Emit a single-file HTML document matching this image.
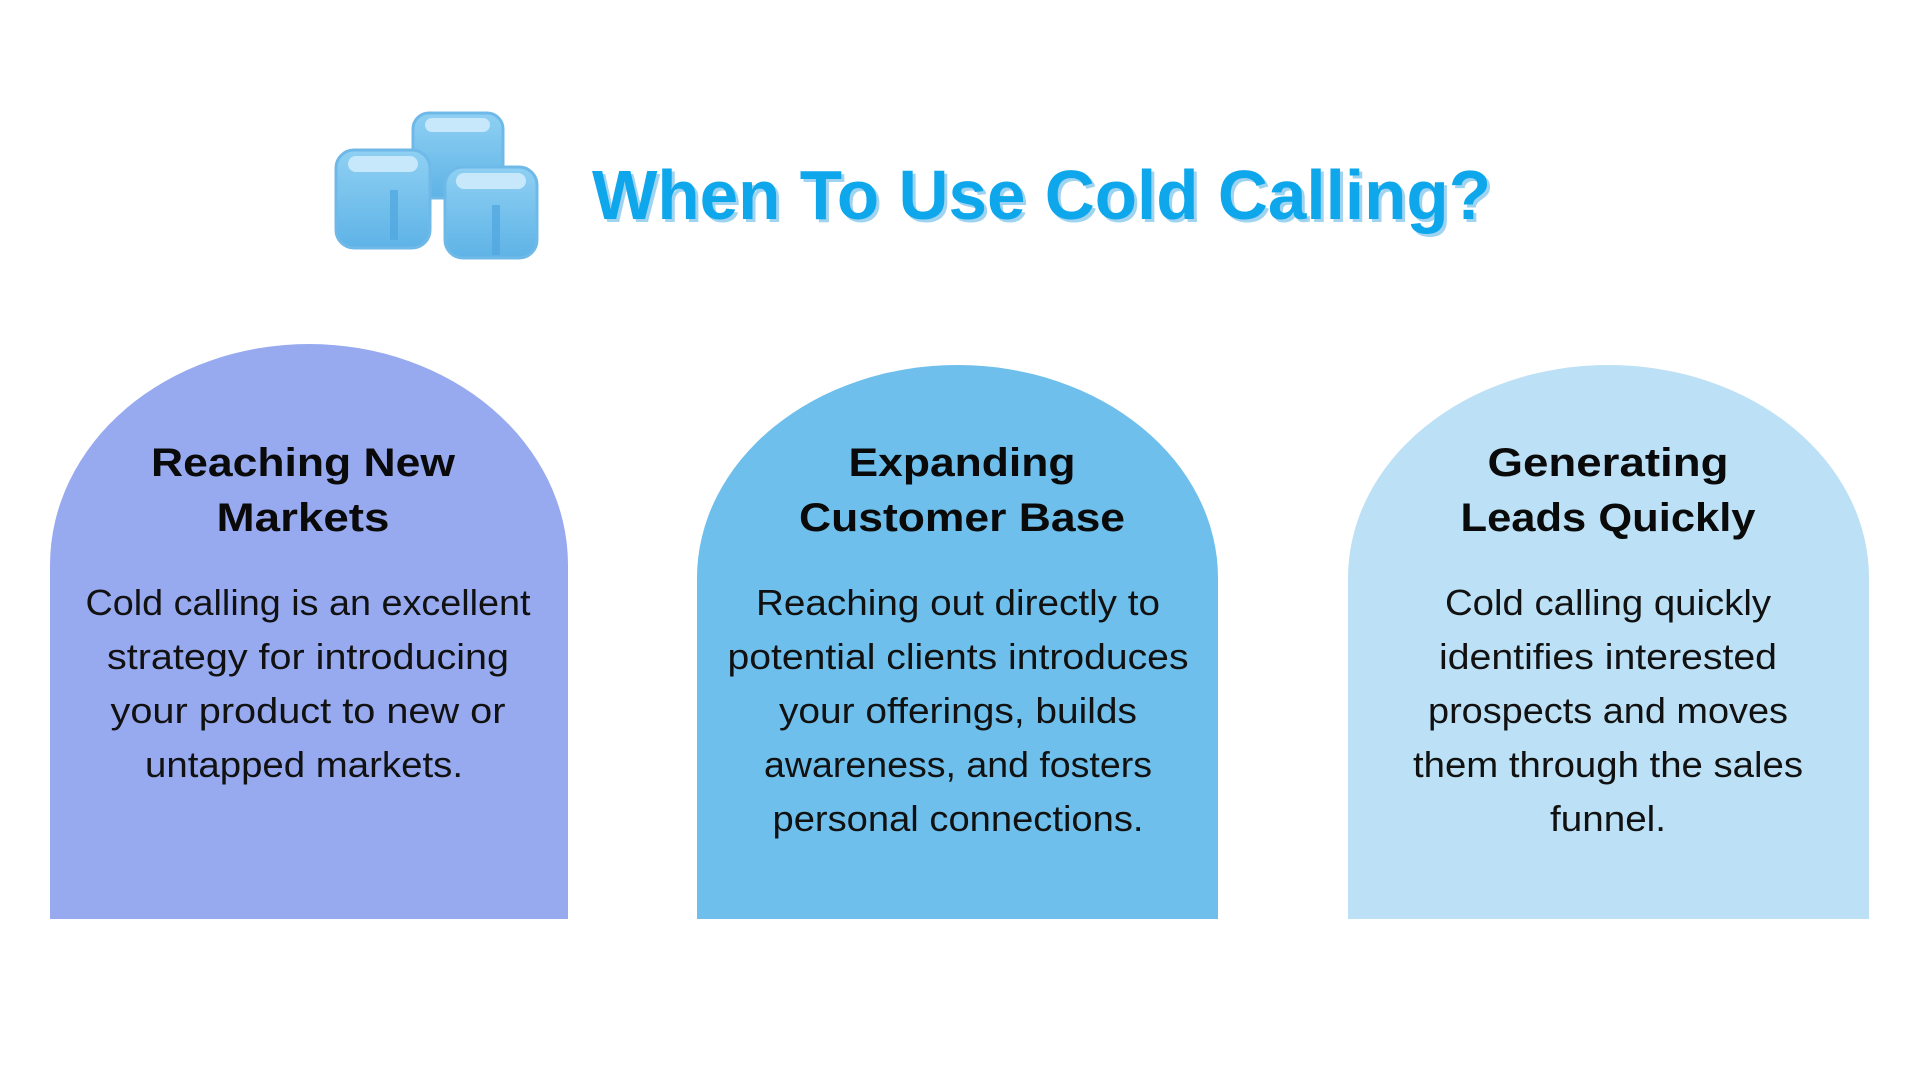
<!DOCTYPE html>
<html><head><meta charset="utf-8"><style>
html,body{margin:0;padding:0;background:#fff;}
svg{display:block;}
text{font-family:"Liberation Sans",sans-serif;}
.h{font-weight:bold;font-size:40px;fill:#0a0a0a;}
.b{font-size:36px;fill:#111;}
</style></head><body>
<svg width="1920" height="1080" viewBox="0 0 1920 1080" xmlns="http://www.w3.org/2000/svg">
<defs>
<linearGradient id="ice" x1="0" y1="0" x2="0" y2="1">
<stop offset="0" stop-color="#8fd0f3"/><stop offset="1" stop-color="#5eb3e6"/></linearGradient>
</defs>
<!-- ice cubes -->
<g>
<rect x="413" y="113" width="90" height="85" rx="16" fill="url(#ice)" stroke="#6fb9e8" stroke-width="3"/>
<rect x="425" y="118" width="65" height="14" rx="7" fill="#c7e8fa"/>
<rect x="336" y="150" width="94" height="98" rx="18" fill="url(#ice)" stroke="#6fb9e8" stroke-width="3"/>
<rect x="348" y="156" width="70" height="16" rx="8" fill="#c7e8fa"/>
<rect x="445" y="167" width="92" height="91" rx="18" fill="url(#ice)" stroke="#6fb9e8" stroke-width="3"/>
<rect x="456" y="173" width="70" height="16" rx="8" fill="#c7e8fa"/>
<rect x="390" y="190" width="8" height="50" fill="#4ea5de" opacity="0.7"/>
<rect x="492" y="205" width="8" height="50" fill="#4ea5de" opacity="0.7"/>
</g>
<text x="592" y="219" font-weight="bold" font-size="70" fill="#9fd3ef" textLength="899" lengthAdjust="spacingAndGlyphs" transform="translate(3,3)">When To Use Cold Calling?</text>
<text x="592" y="219" font-weight="bold" font-size="70" fill="#0fa7ec" textLength="899" lengthAdjust="spacingAndGlyphs">When To Use Cold Calling?</text>

<!-- cards -->
<path d="M50 919 L50 565 A259 221 0 0 1 568 565 L568 919 Z" fill="#97aaf0"/>
<path d="M697 919 L697 578 A260.5 213 0 0 1 1218 578 L1218 919 Z" fill="#6ebfec"/>
<path d="M1348 919 L1348 578 A260.5 213 0 0 1 1869 578 L1869 919 Z" fill="#bce0f5"/>

<g text-anchor="middle">
<text class="h" x="303" y="476" textLength="304" lengthAdjust="spacingAndGlyphs">Reaching New</text>
<text class="h" x="303" y="531" textLength="173" lengthAdjust="spacingAndGlyphs">Markets</text>
<text class="b" x="308" y="615" textLength="445" lengthAdjust="spacingAndGlyphs">Cold calling is an excellent</text>
<text class="b" x="308" y="669" textLength="402" lengthAdjust="spacingAndGlyphs">strategy for introducing</text>
<text class="b" x="308" y="723" textLength="395" lengthAdjust="spacingAndGlyphs">your product to new or</text>
<text class="b" x="304" y="777" textLength="318" lengthAdjust="spacingAndGlyphs">untapped markets.</text>

<text class="h" x="962" y="476" textLength="227" lengthAdjust="spacingAndGlyphs">Expanding</text>
<text class="h" x="962" y="531" textLength="326" lengthAdjust="spacingAndGlyphs">Customer Base</text>
<text class="b" x="958" y="615" textLength="404" lengthAdjust="spacingAndGlyphs">Reaching out directly to</text>
<text class="b" x="958" y="669" textLength="461" lengthAdjust="spacingAndGlyphs">potential clients introduces</text>
<text class="b" x="958" y="723" textLength="358" lengthAdjust="spacingAndGlyphs">your offerings, builds</text>
<text class="b" x="958" y="777" textLength="388" lengthAdjust="spacingAndGlyphs">awareness, and fosters</text>
<text class="b" x="958" y="831" textLength="371" lengthAdjust="spacingAndGlyphs">personal connections.</text>

<text class="h" x="1608" y="476" textLength="241" lengthAdjust="spacingAndGlyphs">Generating</text>
<text class="h" x="1608" y="531" textLength="295" lengthAdjust="spacingAndGlyphs">Leads Quickly</text>
<text class="b" x="1608" y="615" textLength="326" lengthAdjust="spacingAndGlyphs">Cold calling quickly</text>
<text class="b" x="1608" y="669" textLength="338" lengthAdjust="spacingAndGlyphs">identifies interested</text>
<text class="b" x="1608" y="723" textLength="360" lengthAdjust="spacingAndGlyphs">prospects and moves</text>
<text class="b" x="1608" y="777" textLength="390" lengthAdjust="spacingAndGlyphs">them through the sales</text>
<text class="b" x="1608" y="831" textLength="116" lengthAdjust="spacingAndGlyphs">funnel.</text>
</g>
</svg>
</body></html>
